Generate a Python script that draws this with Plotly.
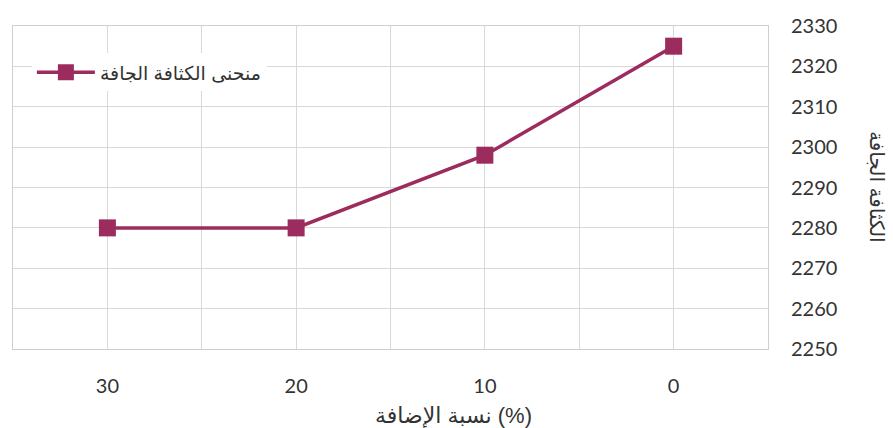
import plotly.graph_objects as go

additive_pct = [30, 20, 10, 0]
dry_density = [2280, 2280, 2298, 2325]
series_name = "منحنى الكثافة الجافة"
x_title = "نسبة الإضافة (%)"
y_title = "الكثافة الجافة"
x_grid_vals = [35, 30, 25, 20, 15, 10, 5, 0, -5]
x_tick_text = ["", "30", "", "20", "", "10", "", "0", ""]
y_ticks = [2250, 2260, 2270, 2280, 2290, 2300, 2310, 2320, 2330]

color = "#9C2B5E"
font_fam = "Lato, DejaVu Sans, sans-serif"
ar_font = "Liberation Sans, DejaVu Sans, sans-serif"

fig = go.Figure()
fig.add_trace(go.Scatter(
    x=additive_pct, y=dry_density, mode="lines+markers", name=series_name,
    line=dict(color=color, width=3.5),
    marker=dict(symbol="square", size=17, color=color),
))

fig.update_layout(
    width=893, height=428,
    margin=dict(l=13, r=125, t=26, b=79),
    plot_bgcolor="white", paper_bgcolor="white",
    font=dict(family=font_fam, size=16, color="#333333"),
    showlegend=True,
    legend=dict(x=0.025, y=0.915, xanchor="left", yanchor="top",
                bgcolor="white", borderwidth=0,
                font=dict(family=ar_font, size=19, color="#333333"),
                itemwidth=58),
    xaxis=dict(range=[35, -5], tickmode="array", tickvals=x_grid_vals, ticktext=x_tick_text,
               showgrid=True, gridcolor="#d9d9d9", gridwidth=1, zeroline=False,
               showline=True, linecolor="#cfcfcf", mirror=True, ticks="",
               ticklabelstandoff=19, tickfont=dict(size=20, color="#333333")),
    yaxis=dict(range=[2250, 2330], tickmode="array", tickvals=y_ticks, side="right",
               showgrid=True, gridcolor="#d9d9d9", gridwidth=1, zeroline=False,
               showline=True, linecolor="#cfcfcf", mirror=True, ticks="",
               ticklabelstandoff=18, tickfont=dict(size=20, color="#333333")),
    annotations=[
        dict(text=x_title, xref="paper", yref="paper", x=0.583, y=-0.205,
             xanchor="center", yanchor="middle", showarrow=False,
             font=dict(family=ar_font, size=22, color="#333333")),
        dict(text=y_title, xref="paper", yref="paper", x=1.145, y=0.5,
             xanchor="center", yanchor="middle", showarrow=False, textangle=90,
             font=dict(family=ar_font, size=20, color="#333333")),
    ],
)

fig.write_html("out.html")
